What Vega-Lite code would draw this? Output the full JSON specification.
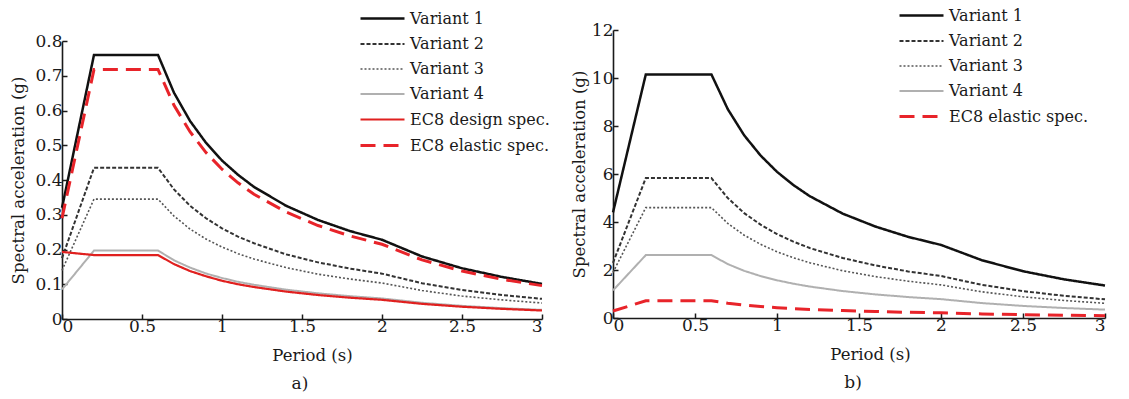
{
  "$schema": "https://vega.github.io/schema/vega-lite/v6.json",
  "background": "white",
  "padding": {"left": 10, "top": 3, "right": 0, "bottom": 0},
  "config": {
    "font": "DejaVu Serif",
    "view": {"stroke": null},
    "axis": {
      "labelFont": "DejaVu Serif", "titleFont": "DejaVu Serif",
      "labelFontSize": 17, "titleFontSize": 16.5, "titleFontWeight": "normal",
      "labelColor": "#1a1a1a", "titleColor": "#1a1a1a",
      "domainColor": "#1a1a1a", "domainWidth": 1.6,
      "tickColor": "#1a1a1a", "tickWidth": 1.5, "tickSize": -5,
      "grid": false, "labelPadding": 4, "titlePadding": 13
    },
    "axisY": {"labelPadding": 5, "titlePadding": 8},
    "legend": {
      "orient": "none", "title": null, "padding": 0,
      "labelFont": "DejaVu Serif", "labelFontSize": 16, "labelColor": "#1a1a1a", "labelLimit": 300,
      "symbolType": "M-2,0L2,0", "symbolSize": 484, "labelOffset": 15, "rowPadding": 5
    },
    "title": {"font": "DejaVu Serif", "fontSize": 17, "fontWeight": "normal", "color": "#1a1a1a", "anchor": "middle", "frame": "group"}
  },
  "datasets": {
    "a": [
      {"T": 0, "V1": 0.32, "V2": 0.175, "V3": 0.14, "V4": 0.085, "D": 0.193, "E": 0.29},
      {"T": 0.2, "V1": 0.76, "V2": 0.435, "V3": 0.345, "V4": 0.197, "D": 0.184, "E": 0.718},
      {"T": 0.6, "V1": 0.76, "V2": 0.435, "V3": 0.345, "V4": 0.197, "D": 0.184, "E": 0.718},
      {"T": 0.7, "V1": 0.651, "V2": 0.373, "V3": 0.296, "V4": 0.169, "D": 0.158, "E": 0.615},
      {"T": 0.8, "V1": 0.57, "V2": 0.326, "V3": 0.259, "V4": 0.148, "D": 0.138, "E": 0.539},
      {"T": 0.9, "V1": 0.507, "V2": 0.29, "V3": 0.23, "V4": 0.131, "D": 0.123, "E": 0.479},
      {"T": 1.0, "V1": 0.456, "V2": 0.261, "V3": 0.207, "V4": 0.118, "D": 0.11, "E": 0.431},
      {"T": 1.1, "V1": 0.415, "V2": 0.237, "V3": 0.188, "V4": 0.107, "D": 0.1, "E": 0.392},
      {"T": 1.2, "V1": 0.38, "V2": 0.218, "V3": 0.1725, "V4": 0.0985, "D": 0.092, "E": 0.359},
      {"T": 1.4, "V1": 0.326, "V2": 0.186, "V3": 0.148, "V4": 0.0844, "D": 0.0789, "E": 0.308},
      {"T": 1.6, "V1": 0.285, "V2": 0.163, "V3": 0.129, "V4": 0.0739, "D": 0.069, "E": 0.269},
      {"T": 1.8, "V1": 0.253, "V2": 0.145, "V3": 0.115, "V4": 0.0657, "D": 0.0613, "E": 0.239},
      {"T": 2.0, "V1": 0.228, "V2": 0.1305, "V3": 0.1035, "V4": 0.0591, "D": 0.0552, "E": 0.215},
      {"T": 2.25, "V1": 0.18, "V2": 0.103, "V3": 0.082, "V4": 0.0467, "D": 0.0436, "E": 0.17},
      {"T": 2.5, "V1": 0.146, "V2": 0.0835, "V3": 0.066, "V4": 0.0378, "D": 0.0353, "E": 0.138},
      {"T": 2.75, "V1": 0.121, "V2": 0.069, "V3": 0.055, "V4": 0.0313, "D": 0.0292, "E": 0.114},
      {"T": 3.0, "V1": 0.101, "V2": 0.058, "V3": 0.046, "V4": 0.0263, "D": 0.0245, "E": 0.096}
    ],
    "b": [
      {"T": 0, "V1": 4.4, "V2": 2.3, "V3": 1.9, "V4": 1.15, "E": 0.29},
      {"T": 0.2, "V1": 10.15, "V2": 5.83, "V3": 4.6, "V4": 2.62, "E": 0.718},
      {"T": 0.6, "V1": 10.15, "V2": 5.83, "V3": 4.6, "V4": 2.62, "E": 0.718},
      {"T": 0.7, "V1": 8.7, "V2": 4.997, "V3": 3.94, "V4": 2.246, "E": 0.615},
      {"T": 0.8, "V1": 7.61, "V2": 4.37, "V3": 3.45, "V4": 1.965, "E": 0.539},
      {"T": 0.9, "V1": 6.77, "V2": 3.89, "V3": 3.07, "V4": 1.747, "E": 0.479},
      {"T": 1.0, "V1": 6.09, "V2": 3.5, "V3": 2.76, "V4": 1.572, "E": 0.431},
      {"T": 1.1, "V1": 5.54, "V2": 3.18, "V3": 2.51, "V4": 1.429, "E": 0.392},
      {"T": 1.2, "V1": 5.075, "V2": 2.915, "V3": 2.3, "V4": 1.31, "E": 0.359},
      {"T": 1.4, "V1": 4.35, "V2": 2.5, "V3": 1.97, "V4": 1.123, "E": 0.308},
      {"T": 1.6, "V1": 3.81, "V2": 2.19, "V3": 1.725, "V4": 0.983, "E": 0.269},
      {"T": 1.8, "V1": 3.38, "V2": 1.94, "V3": 1.533, "V4": 0.873, "E": 0.239},
      {"T": 2.0, "V1": 3.045, "V2": 1.75, "V3": 1.38, "V4": 0.786, "E": 0.215},
      {"T": 2.25, "V1": 2.406, "V2": 1.38, "V3": 1.09, "V4": 0.621, "E": 0.17},
      {"T": 2.5, "V1": 1.949, "V2": 1.12, "V3": 0.883, "V4": 0.503, "E": 0.138},
      {"T": 2.75, "V1": 1.611, "V2": 0.925, "V3": 0.73, "V4": 0.416, "E": 0.114},
      {"T": 3.0, "V1": 1.353, "V2": 0.777, "V3": 0.613, "V4": 0.349, "E": 0.096}
    ],
    "none": []
  },
  "spacing": 21,
  "hconcat": [
    {
      "vconcat": [
        {"width": 1, "height": 1, "data": {"name": "none"}, "mark": "point"},
        {
          "width": 480, "height": 278,
          "data": {"name": "a"},
          "transform": [{"fold": ["V1", "V2", "V3", "V4", "D", "E"], "as": ["s", "v"]}],
          "title": {"text": "a)", "orient": "bottom", "offset": 12, "dx": -2},
          "mark": {"type": "line"},
          "encoding": {
            "x": {"field": "T", "type": "quantitative", "scale": {"domain": [0, 3], "nice": false},
                  "axis": {"values": [0, 0.5, 1, 1.5, 2, 2.5, 3], "format": "~g", "title": "Period (s)", "titleX": 250}},
            "y": {"field": "v", "type": "quantitative", "scale": {"domain": [0, 0.8], "nice": false},
                  "axis": {"values": [0, 0.1, 0.2, 0.3, 0.4, 0.5, 0.6, 0.7, 0.8], "format": "~g", "title": "Spectral acceleration (g)"}},
            "color": {"field": "s", "type": "nominal",
                      "scale": {"domain": ["V1", "V2", "V3", "V4", "D", "E"], "range": ["#111111", "#333333", "#555555", "#b0b0b0", "#e0201f", "#e8242a"]},
                      "legend": {"legendX": 308, "legendY": -24, "labelExpr": "datum.label=='V1'?'Variant 1':datum.label=='V2'?'Variant 2':datum.label=='V3'?'Variant 3':datum.label=='V4'?'Variant 4':datum.label=='D'?'EC8 design spec.':'EC8 elastic spec.'"}},
            "strokeDash": {"field": "s", "type": "nominal",
                      "scale": {"domain": ["V1", "V2", "V3", "V4", "D", "E"], "range": [[1, 0], [4, 2], [2, 2], [1, 0], [1, 0], [15, 8]]},
                      "legend": {"legendX": 308, "legendY": -24, "labelExpr": "datum.label=='V1'?'Variant 1':datum.label=='V2'?'Variant 2':datum.label=='V3'?'Variant 3':datum.label=='V4'?'Variant 4':datum.label=='D'?'EC8 design spec.':'EC8 elastic spec.'"}},
            "strokeWidth": {"field": "s", "type": "nominal",
                      "scale": {"type": "ordinal", "domain": ["V1", "V2", "V3", "V4", "D", "E"], "range": [2.5, 2, 1.6, 2, 2.2, 3]},
                      "legend": {"legendX": 308, "legendY": -24, "labelExpr": "datum.label=='V1'?'Variant 1':datum.label=='V2'?'Variant 2':datum.label=='V3'?'Variant 3':datum.label=='V4'?'Variant 4':datum.label=='D'?'EC8 design spec.':'EC8 elastic spec.'"}}
          }
        }
      ],
      "spacing": 10,
      "bounds": "flush"
    },
    {
      "width": 492, "height": 288,
      "data": {"name": "b"},
      "transform": [{"fold": ["V1", "V2", "V3", "V4", "E"], "as": ["s", "v"]}],
      "title": {"text": "b)", "orient": "bottom", "offset": 12, "dx": -6},
      "mark": {"type": "line"},
      "encoding": {
        "x": {"field": "T", "type": "quantitative", "scale": {"domain": [0, 3], "nice": false},
              "axis": {"values": [0, 0.5, 1, 1.5, 2, 2.5, 3], "format": "~g", "title": "Period (s)", "titleX": 257}},
        "y": {"field": "v", "type": "quantitative", "scale": {"domain": [0, 12], "nice": false},
              "axis": {"values": [0, 2, 4, 6, 8, 10, 12], "format": "~g", "title": "Spectral acceleration (g)", "titlePadding": 4}},
        "color": {"field": "s", "type": "nominal",
                  "scale": {"domain": ["V1", "V2", "V3", "V4", "E"], "range": ["#111111", "#333333", "#555555", "#b0b0b0", "#e8242a"]},
                  "legend": {"legendX": 296, "legendY": -27, "labelExpr": "datum.label=='V1'?'Variant 1':datum.label=='V2'?'Variant 2':datum.label=='V3'?'Variant 3':datum.label=='V4'?'Variant 4':'EC8 elastic spec.'"}},
        "strokeDash": {"field": "s", "type": "nominal",
                  "scale": {"domain": ["V1", "V2", "V3", "V4", "E"], "range": [[1, 0], [4, 2], [2, 2], [1, 0], [15, 8]]},
                  "legend": {"legendX": 296, "legendY": -27, "labelExpr": "datum.label=='V1'?'Variant 1':datum.label=='V2'?'Variant 2':datum.label=='V3'?'Variant 3':datum.label=='V4'?'Variant 4':'EC8 elastic spec.'"}},
        "strokeWidth": {"field": "s", "type": "nominal",
                  "scale": {"type": "ordinal", "domain": ["V1", "V2", "V3", "V4", "E"], "range": [2.5, 2, 1.6, 2, 3]},
                  "legend": {"legendX": 296, "legendY": -27, "labelExpr": "datum.label=='V1'?'Variant 1':datum.label=='V2'?'Variant 2':datum.label=='V3'?'Variant 3':datum.label=='V4'?'Variant 4':'EC8 elastic spec.'"}}
      }
    }
  ],
  "resolve": {
    "scale": {"x": "independent", "y": "independent", "color": "independent", "strokeDash": "independent", "strokeWidth": "independent"},
    "legend": {"color": "independent", "strokeDash": "independent", "strokeWidth": "independent"}
  }
}
